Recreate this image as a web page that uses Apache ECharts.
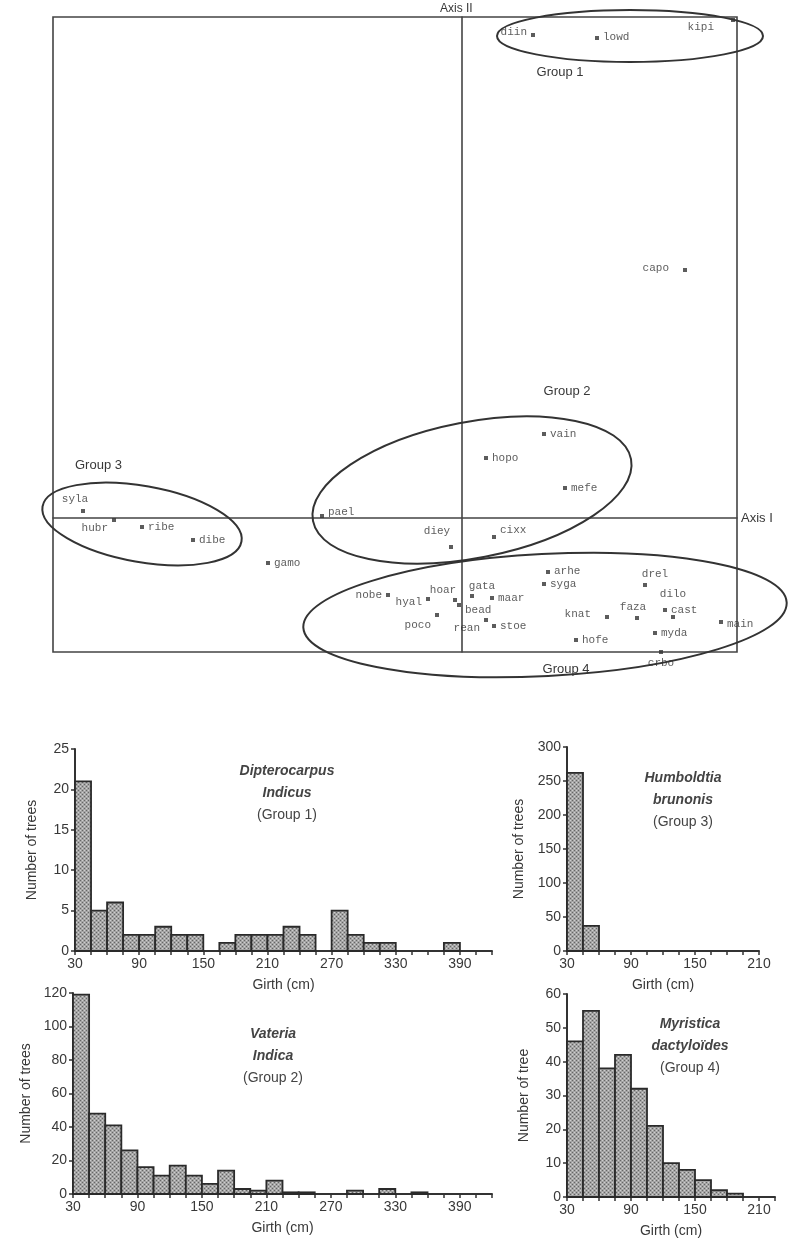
<!DOCTYPE html>
<html><head><meta charset="utf-8">
<script src="https://cdn.jsdelivr.net/npm/echarts@6/dist/echarts.min.js"></script>
<style>html,body{margin:0;padding:0;background:#fff}#c{width:788px;height:1243px}</style>
</head><body><div id="c"></div><script>
// ---------- Ordination (Axis I / Axis II) ----------
const speciesCodes = ['diin','lowd','kipi','capo','vain','hopo','mefe','pael','diey','cixx',
  'syla','hubr','ribe','dibe','gamo','arhe','syga','drel','cast','dilo',
  'faza','knat','main','hofe','myda','crbo','nobe','hyal','hoar','gata',
  'bead','maar','poco','rean','stoe'];
const axis1Scores = [0.71,1.35,2.71,2.23,0.82,0.24,1.03,-1.40,-0.11,0.32,
  -3.79,-3.48,-3.20,-2.69,-1.94,0.86,0.82,1.83,2.03,2.11,
  1.75,1.45,2.59,1.14,1.93,1.99,-0.74,-0.34,-0.07,0.10,
  -0.03,0.30,-0.25,0.24,0.32];
const axis2Scores = [4.83,4.80,4.98,2.48,0.84,0.60,0.30,0.02,-0.29,-0.19,
  0.07,-0.02,-0.09,-0.22,-0.45,-0.54,-0.66,-0.67,-0.92,-0.99,
  -1.00,-0.99,-1.04,-1.22,-1.15,-1.34,-0.77,-0.81,-0.82,-0.78,
  -0.87,-0.80,-0.97,-1.02,-1.08];
// group ellipses: [centre axis I, centre axis II, semi-axis I, semi-axis II, tilt deg]
const groupNames = ['Group 1','Group 2','Group 3','Group 4'];
const groupEllipses = [[1.68,4.82,1.33,0.26,0],[0.10,0.28,1.62,0.68,11],[-3.20,-0.06,1.01,0.38,-10],[0.83,-0.97,2.42,0.61,3]];

// ---------- Girth histograms ----------
const girthBins = [30,45,60,75,90,105,120,135,150,165,180,195,210,225,240,255,270,285,300,315,330,345,360,375,390,405];
const dipterocarpusCounts = [21,5,6,2,2,3,2,2,0,1,2,2,2,3,2,0,5,2,1,1,0,0,0,1,0,0];
const vateriaCounts = [119,48,41,26,16,11,17,11,6,14,3,2,8,1,1,0,0,2,0,3,0,1,0,0,0,0];
const humboldtiaCounts = [262,37,0,0,0,0,0,0,0,0,0,0];
const myristicaCounts = [46,55,38,42,32,21,10,8,5,2,1,0,0];
const girthTickLabels = [30,90,150,210,270,330,390];

// ---------- styles ----------
const labelLayout = {
  diin:['left',0,-3], lowd:['right',0,-1], kipi:['left',-13,7], capo:['left',-10,-2],
  vain:['right',0,0], hopo:['right',0,0], mefe:['right',0,0], pael:['right',0,-4],
  diey:['top',-14,-4], cixx:['right',0,-7], syla:['top',-8,0], hubr:['left',0,8],
  ribe:['right',0,0], dibe:['right',0,0], gamo:['right',0,0], arhe:['right',0,-1],
  syga:['right',0,0], drel:['top',10,1], cast:['right',0,0], dilo:['top',0,-11],
  faza:['top',-4,1], knat:['left',-10,-3], main:['right',0,2], hofe:['right',0,0],
  myda:['right',0,0], crbo:['bottom',0,0], nobe:['left',0,0], hyal:['left',0,3],
  hoar:['top',-12,2], gata:['top',10,2], bead:['right',0,5], maar:['right',0,0],
  poco:['left',0,10], rean:['left',0,8], stoe:['right',0,0]
};
const INK = '#383838';
const MONO = '"Liberation Mono","DejaVu Sans Mono",monospace';
const SANS = '"Liberation Sans",Arial,sans-serif';
const FS = 14;

function makePattern(){
  const c = document.createElement('canvas'); c.width = 4; c.height = 4;
  const g = c.getContext('2d');
  g.fillStyle = '#a4a4a4'; g.fillRect(0,0,4,4);
  g.fillStyle = '#666'; g.fillRect(0,0,1,1); g.fillRect(2,2,1,1);
  g.fillStyle = '#cfcfcf'; g.fillRect(2,0,1,1); g.fillRect(0,2,1,1);
  return c;
}
const barPattern = {image: makePattern(), repeat: 'repeat'};
const BIN_W = 15;

const scatterData = speciesCodes.map((code, i) => {
  const L = labelLayout[code];
  return {
    name: code, value: [axis1Scores[i], axis2Scores[i]],
    label: {show: true, formatter: code, position: L[0], offset: [L[1], L[2]], distance: 4}
  };
});

function histSeries(idx, counts){
  return {
    type: 'custom', xAxisIndex: idx, yAxisIndex: idx,
    data: counts.map((c, i) => [girthBins[i], c]),
    renderItem: function(params, api){
      const x0 = api.value(0), y = api.value(1);
      if (!y) return null;
      const p0 = api.coord([x0, y]);
      const p1 = api.coord([x0 + BIN_W, 0]);
      return {type: 'rect', shape: {x: p0[0], y: p0[1], width: p1[0]-p0[0], height: p1[1]-p0[1]},
        style: {fill: barPattern, stroke: '#2a2a2a', lineWidth: 1.8}};
    }
  };
}
function histX(idx, max){
  return {gridIndex: idx, type: 'value', min: 30, max: max, interval: BIN_W,
    name: 'Girth (cm)', nameLocation: 'middle', nameGap: 27,
    nameTextStyle: {fontFamily: SANS, fontSize: FS, color: INK},
    axisLine: {onZero: false, lineStyle: {color: '#333', width: 2}},
    axisTick: {show: true, length: 4, lineStyle: {color: '#333', width: 1.5}},
    splitLine: {show: false},
    axisLabel: {fontFamily: SANS, fontSize: FS, color: INK, margin: 6, showMaxLabel: true,
      formatter: v => girthTickLabels.indexOf(v) >= 0 ? String(v) : ''}
  };
}
function histY(idx, max, step, name, gap){
  return {gridIndex: idx, type: 'value', min: 0, max: max, interval: step,
    name: name, nameLocation: 'middle', nameGap: gap,
    nameTextStyle: {fontFamily: SANS, fontSize: FS, color: INK},
    axisLine: {show: true, lineStyle: {color: '#333', width: 2}},
    axisTick: {show: true, length: 4, lineStyle: {color: '#333', width: 1.5}},
    splitLine: {show: false},
    axisLabel: {fontFamily: SANS, fontSize: FS, color: INK, margin: 6}
  };
}
function titleText(cx, y, sp1, sp2, grp){
  return [
    {type: 'text', x: cx, y: y, style: {text: sp1, font: 'italic bold ' + FS + 'px ' + SANS, fill: '#444', align: 'center', verticalAlign: 'middle'}},
    {type: 'text', x: cx, y: y + 22, style: {text: sp2, font: 'italic bold ' + FS + 'px ' + SANS, fill: '#444', align: 'center', verticalAlign: 'middle'}},
    {type: 'text', x: cx, y: y + 44, style: {text: grp, font: FS + 'px ' + SANS, fill: '#444', align: 'center', verticalAlign: 'middle'}}
  ];
}
function gtext(x, y, t, align){
  return {type: 'text', x: x, y: y, style: {text: t, font: '13px ' + SANS, fill: INK, align: align || 'center', verticalAlign: 'middle'}};
}

const chart = echarts.init(document.getElementById('c'), null, {renderer: 'canvas'});
chart.setOption({
  animation: false,
  backgroundColor: '#fff',
  grid: [
    {left: 53, top: 17, width: 684, height: 635, show: true, borderColor: '#444', borderWidth: 1.6, backgroundColor: 'transparent'},
    {left: 75, top: 749, width: 417, height: 202},
    {left: 567, top: 747, width: 192, height: 204},
    {left: 73, top: 993, width: 419, height: 201},
    {left: 567, top: 994, width: 208, height: 203}
  ],
  xAxis: [
    {gridIndex: 0, type: 'value', min: -4.09, max: 2.75,
      axisLine: {onZero: true, lineStyle: {color: '#444', width: 1.6}},
      axisTick: {show: false}, axisLabel: {show: false}, splitLine: {show: false}},
    histX(1, 420), histX(2, 210), histX(3, 420), histX(4, 225)
  ],
  yAxis: [
    {gridIndex: 0, type: 'value', min: -1.34, max: 5.01,
      axisLine: {onZero: true, lineStyle: {color: '#444', width: 1.6}},
      axisTick: {show: false}, axisLabel: {show: false}, splitLine: {show: false}},
    histY(1, 25, 5, 'Number of trees', 36),
    histY(2, 300, 50, 'Number of trees', 41),
    histY(3, 120, 20, 'Number of trees', 38),
    histY(4, 60, 10, 'Number of tree', 36)
  ],
  series: [
    {type: 'scatter', xAxisIndex: 0, yAxisIndex: 0, symbol: 'rect', symbolSize: 4,
      itemStyle: {color: '#333'},
      label: {fontFamily: MONO, fontSize: 11, color: '#333'},
      data: scatterData, z: 5},
    {type: 'custom', xAxisIndex: 0, yAxisIndex: 0, clip: false, z: 4,
      data: groupEllipses.map((e, i) => ({name: groupNames[i], value: e})),
      renderItem: function(params, api){
        const c = api.coord([api.value(0), api.value(1)]);
        const s = api.size([api.value(2), api.value(3)]);
        return {type: 'ellipse', x: c[0], y: c[1], rotation: api.value(4) * Math.PI / 180,
          shape: {cx: 0, cy: 0, rx: s[0], ry: s[1]},
          style: {fill: 'none', stroke: '#333', lineWidth: 2}};
      }},
    histSeries(1, dipterocarpusCounts),
    histSeries(2, humboldtiaCounts),
    histSeries(3, vateriaCounts),
    histSeries(4, myristicaCounts)
  ],
  graphic: [
    {type: 'text', x: 440, y: 9, style: {text: 'Axis II', font: '12px ' + SANS, fill: INK, align: 'left', verticalAlign: 'middle'}},
    {type: 'text', x: 741, y: 518, style: {text: 'Axis I', font: '13px ' + SANS, fill: INK, align: 'left', verticalAlign: 'middle'}},
    gtext(560, 72, 'Group 1'), gtext(567, 391, 'Group 2'), gtext(75, 465, 'Group 3', 'left'), gtext(566, 669, 'Group 4'),
    ...titleText(287, 771, 'Dipterocarpus', 'Indicus', '(Group 1)'),
    ...titleText(683, 778, 'Humboldtia', 'brunonis', '(Group 3)'),
    ...titleText(273, 1034, 'Vateria', 'Indica', '(Group 2)'),
    ...titleText(690, 1024, 'Myristica', 'dactyloïdes', '(Group 4)')
  ]
});
</script></body></html>
